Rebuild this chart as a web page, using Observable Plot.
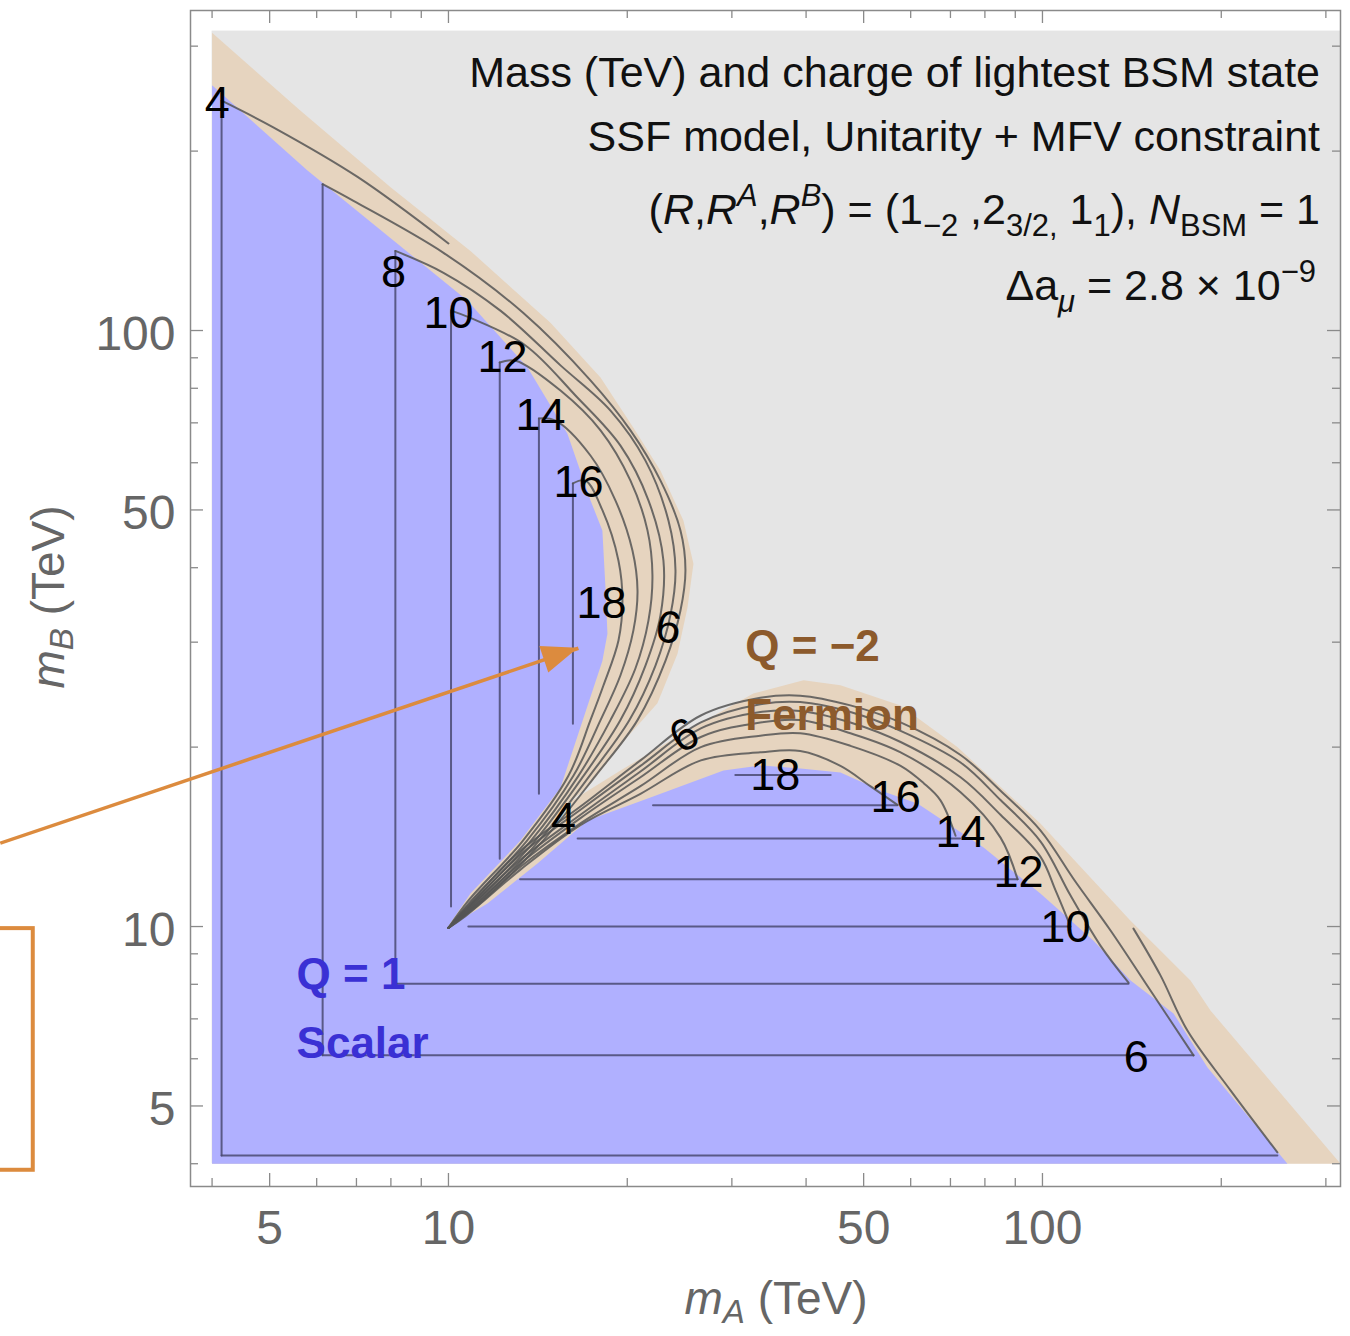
<!DOCTYPE html>
<html><head><meta charset="utf-8">
<script src="https://cdn.jsdelivr.net/npm/d3@7"></script>
<script src="https://cdn.jsdelivr.net/npm/@observablehq/plot@0.6"></script>
<style>body{margin:0;background:#fff}#chart svg{display:block}</style>
</head><body><div id="chart"></div>
<script>
// ---------- data (TeV) ----------
const xDomain = [3.679, 317.5];
const yDomain = [3.663, 344.3];
const scanRange = [4, 318];
const majorTicks = [5, 10, 50, 100];
const minorTicks = [4, 6, 7, 8, 9, 20, 30, 40, 60, 70, 80, 90, 200, 300];

// region where the lightest state is the Q=-2 fermion (outer edge against the excluded grey area)
const fermionRegion = [[4,4],[4,316],[5.63,234],[7.99,174],[10.89,136],[14.85,103],[18.03,83.4],[20.48,68.7],[22.75,58.2],[24.86,48.0],[25.85,40.6],[25.26,34.3],[24.3,28.7],[22.48,23.7],[20.01,20.8],[17.14,17.1],[15.86,16.09],[19.48,18.27],[25.26,21.33],[32.6,24.6],[39.6,25.9],[45.7,25.4],[57.7,23.5],[71.9,20.0],[99.2,14.89],[140.7,10.23],[177.5,8.12],[191.8,7.23],[317.5,4]];
// region where the lightest state is the Q=1 scalar
const scalarRegion = [[4,4],[4,258],[5.79,185.6],[8.08,141.6],[10.76,112.3],[13.59,86.7],[15.86,67.1],[17.34,51.9],[18.16,46.2],[18.38,37.0],[18.52,31.0],[18.16,27.9],[16.68,21.6],[15.44,17.1],[13.22,13.94],[10.89,11.36],[9.96,9.96],[11.63,10.93],[14.12,12.76],[17.14,15.06],[21.88,16.46],[29.04,18.27],[33.51,18.63],[39.14,18.41],[45.7,18.13],[53.4,16.92],[61.6,16.09],[79.6,13.57],[99.2,11.36],[121.9,9.47],[140.7,8.12],[166.2,7.15],[189.6,5.80],[258.5,4]];

// scalar-region contours (L shaped; null = branch not drawn)
const contourLevels = [4, 6, 8, 10, 12, 14, 16, 18];
const vertX    = [4.15, 6.14, 8.14, 10.1, 12.2, 14.2, 16.2, null];
const vertTop  = [243, 176, 136, 108, 88.4, 71.2, 55.4, null];
const vertBot  = [4.13, 6.08, 8.02, 10.8, 13.0, 16.7, 21.9, null];
const horY     = [4.13, 6.08, 8.02, 10.0, 12.0, 14.05, 15.97, 17.95];
const horLeft  = [4.15, 6.14, 8.14, 10.8, 13.2, 16.5, 22.1, 30.4];
const horRight = [248.6, 179.6, 139.6, 111, 90.8, 72.7, 57.0, 44];

// fermion-region contours (inside the band)
const band4Upper  = [[4.15,243],[5.08,219],[7.03,181],[10.0,140]];
const band6Upper  = [[6.14,176],[6.92,165],[9.81,135],[13.37,107],[17.34,82.5],[20.25,68.0],[22.75,56.0],[24.58,46.2],[25.06,39.6],[24.58,33.9],[23.19,27.9],[20.81,22.2],[17.68,17.9],[14.39,13.9],[11.45,11.06],[10,9.95]];
const band8Upper  = [[8.14,136],[9.81,125],[12.23,108],[15.44,87.4],[18.74,73.4],[21.46,60.5],[23.46,48.0],[24.11,39.6],[23.64,33.3],[22.31,27.4],[20.17,22.2],[17.28,17.9],[14.18,13.9],[11.32,11.06],[10,9.95]];
const band10Upper = [[10.1,108],[10.89,105],[13.48,94.4],[16.36,77.8],[19.48,64.1],[21.71,51.9],[23.01,41.1],[22.75,33.3],[21.46,27.4],[19.48,22.2],[16.88,17.9],[13.96,13.9],[11.19,11.06],[10,9.95]];
const band12Upper = [[12.2,88.4],[12.97,89.0],[15.44,79.3],[18.03,68.0],[20.25,56.0],[21.63,46.2],[22.05,38.8],[21.71,32.6],[20.64,27.1],[18.74,22.2],[16.55,17.9],[13.74,13.9],[11.06,11.06],[10,9.95]];
const band14Upper = [[14.2,71.2],[15.14,70.6],[17.34,61.7],[19.1,51.9],[20.41,42.7],[20.81,36.6],[20.48,31.4],[19.48,26.4],[18.03,22.2],[16.23,17.9],[13.53,13.9],[10.93,11.06],[10,9.95]];
const band16Upper = [[16.2,55.4],[17.01,56.0],[18.17,49.9],[19.33,41.1],[19.63,35.2],[19.33,30.2],[18.24,25.4],[17.34,22.2],[15.92,17.9],[13.32,13.9],[10.81,11.06],[10,9.95]];
const band4Lower  = [[248.6,4.18],[207.3,5.31],[175.4,6.69],[158,8.28],[142.3,9.92]];
const band6Lower  = [[179.6,6.08],[152,7.81],[130.2,9.85],[113.6,11.9],[99.2,14.5],[85.0,16.9],[72.8,19.4],[57.7,22.0],[47.5,23.5],[39.1,24.4],[33.5,24.2],[26.6,22.6],[21.05,19.0],[16.68,15.9],[13.22,13.4],[10.68,10.72],[10,9.95]];
const band8Lower  = [[139.6,8.05],[125.2,9.29],[111.5,11.27],[99.2,13.9],[85.0,16.3],[72.8,18.85],[57.7,21.3],[47.5,22.9],[39.1,23.8],[33.5,23.6],[26.6,22.0],[21.05,18.6],[16.68,15.7],[13.22,13.2],[10.68,10.64],[10,9.95]];
const band10Lower = [[111.5,10.0],[105.2,11.5],[99.2,13.1],[85.0,15.4],[72.8,17.8],[57.7,20.4],[47.5,22.0],[39.1,23.0],[33.5,22.9],[26.6,21.5],[21.05,18.2],[16.68,15.4],[13.22,12.95],[10.68,10.6],[10,9.95]];
const band12Lower = [[90.8,12.0],[85.0,14.1],[72.8,16.8],[57.7,19.6],[47.5,21.1],[39.1,22.2],[33.5,22.0],[26.6,20.8],[21.05,17.8],[16.68,15.2],[13.22,12.76],[10.68,10.53],[10,9.95]];
const band14Lower = [[71.4,14.2],[67.3,16.3],[63.1,17.4],[57.7,18.6],[47.5,20.1],[39.1,21.1],[33.5,20.9],[26.6,20.0],[21.05,17.2],[16.68,14.9],[13.22,12.6],[10.68,10.47],[10,9.95]];
const band16Lower = [[57.0,16.0],[51.3,17.2],[45.7,18.6],[39.1,19.7],[33.5,19.6],[26.6,19.0],[21.05,16.7],[16.68,14.8],[13.22,12.46],[10.68,10.41],[10,9.95]];

// contour labels
const labelText = ["4","8","10","12","14","16","18","6","6","4","18","16","14","12","10","6"];
const labelA    = [4.08, 8.08, 10.0, 12.33, 14.29, 16.55, 18.1, 23.46, 24.96, 15.62, 35.5, 56.6, 72.8, 91.1, 109.3, 143.9];
const labelB    = [240, 125.1, 106.8, 90.1, 72.0, 55.6, 34.8, 31.7, 20.9, 15.1, 17.9, 16.46, 14.4, 12.3, 9.96, 6.03];
const labelRot  = [0, 0, 0, 0, 0, 0, 0, 8, -30, 0, 0, 0, 0, 0, 0, 0];

// region labels
const regionNames = ["Q = 1", "Scalar", "Q = \u22122", "Fermion"];
const regionA = [5.55, 5.55, 31.6, 31.6];
const regionB = [8.28, 6.36, 29.4, 22.6];
const regionKind = ["scalar", "scalar", "fermion", "fermion"];

// annotation (arrow + box leaving the frame)
const arrowFrom = [1.76, 13.8];
const arrowTo = [16.55, 29.3];
const boxA = [1.5, 2.0];
const boxB = [3.9, 9.92];

// ---------- build ----------
const FONT = "'Liberation Sans', Arial, Helvetica, sans-serif";
const ORANGE = "#dc8b3e";
const W = 1350, H = 1336, ML = 190, MR = 10, MT = 10, MB = 150;
const FW = W - ML - MR, FH = H - MT - MB;

const lSegments = [];
contourLevels.forEach((lv, i) => {
  if (vertX[i] != null) {
    lSegments.push({x: vertX[i], y: vertTop[i], z: `v${lv}`});
    lSegments.push({x: vertX[i], y: vertBot[i], z: `v${lv}`});
  }
  lSegments.push({x: horLeft[i], y: horY[i], z: `h${lv}`});
  lSegments.push({x: horRight[i], y: horY[i], z: `h${lv}`});
});
const bandAll = [band4Upper, band6Upper, band8Upper, band10Upper, band12Upper, band14Upper, band16Upper,
  band4Lower, band6Lower, band8Lower, band10Lower, band12Lower, band14Lower, band16Lower];
const bandPts = bandAll.flatMap((ln, k) => ln.map(([x, y]) => ({x, y, z: k})));
const labels = labelText.map((t, i) => ({t, x: labelA[i], y: labelB[i], r: labelRot[i]}));
const regions = regionNames.map((t, i) => ({t, x: regionA[i], y: regionB[i], k: regionKind[i]}));

const chart = Plot.plot({
  width: W, height: H,
  marginLeft: ML, marginRight: MR, marginTop: MT, marginBottom: MB,
  style: {fontFamily: FONT, background: "white", overflow: "visible"},
  x: {type: "log", domain: xDomain, axis: null},
  y: {type: "log", domain: yDomain, axis: null},
  marks: [
    Plot.rect([{x1: scanRange[0], x2: scanRange[1], y1: scanRange[0], y2: scanRange[1]}],
      {x1: "x1", x2: "x2", y1: "y1", y2: "y2", fill: "#e5e5e5"}),
    Plot.line(fermionRegion, {x: d => d[0], y: d => d[1], fill: "#e6d4bf", stroke: "none"}),
    Plot.line(scalarRegion, {x: d => d[0], y: d => d[1], fill: "#b0b0ff", stroke: "none"}),
    Plot.line(lSegments, {x: "x", y: "y", z: "z", stroke: "#4a4a72", strokeWidth: 2, strokeOpacity: 0.85}),
    Plot.line(bandPts, {x: "x", y: "y", z: "z", stroke: "#555", strokeWidth: 2, strokeOpacity: 0.85, curve: "catmull-rom"}),
    Plot.text(labels, {x: "x", y: "y", text: "t", rotate: "r", fontSize: 45, fill: "#000"}),
    Plot.text(regions.filter(d => d.k === "scalar"), {x: "x", y: "y", text: "t", textAnchor: "start", fontSize: 44, fontWeight: "bold", fill: "#3a30d4"}),
    Plot.text(regions.filter(d => d.k === "fermion"), {x: "x", y: "y", text: "t", textAnchor: "start", fontSize: 44, fontWeight: "bold", fill: "#8c5a2c"}),
    Plot.frame({stroke: "#8a8a8a", strokeWidth: 1.5}),
    // ticks, all four sides, pointing inward
    Plot.tickX(majorTicks, {x: d => d, insetTop: FH - 13, stroke: "#8a8a8a", strokeWidth: 1.3}),
    Plot.tickX(minorTicks, {x: d => d, insetTop: FH - 8, stroke: "#8a8a8a", strokeWidth: 1.3}),
    Plot.tickX(majorTicks, {x: d => d, insetBottom: FH - 13, stroke: "#8a8a8a", strokeWidth: 1.3}),
    Plot.tickX(minorTicks, {x: d => d, insetBottom: FH - 8, stroke: "#8a8a8a", strokeWidth: 1.3}),
    Plot.tickY(majorTicks, {y: d => d, insetRight: FW - 13, stroke: "#8a8a8a", strokeWidth: 1.3}),
    Plot.tickY(minorTicks, {y: d => d, insetRight: FW - 8, stroke: "#8a8a8a", strokeWidth: 1.3}),
    Plot.tickY(majorTicks, {y: d => d, insetLeft: FW - 13, stroke: "#8a8a8a", strokeWidth: 1.3}),
    Plot.tickY(minorTicks, {y: d => d, insetLeft: FW - 8, stroke: "#8a8a8a", strokeWidth: 1.3}),
    Plot.text(majorTicks, {x: d => d, text: d => String(d), frameAnchor: "bottom", lineAnchor: "middle", dy: 42, fontSize: 48, fill: "#666"}),
    Plot.text(majorTicks, {y: d => d, text: d => String(d), frameAnchor: "left", lineAnchor: "middle", dx: -15, dy: 4, textAnchor: "end", fontSize: 48, fill: "#666"}),
    // annotation
    Plot.link([{x1: arrowFrom[0], y1: arrowFrom[1], x2: arrowTo[0], y2: arrowTo[1]}],
      {x1: "x1", y1: "y1", x2: "x2", y2: "y2", stroke: ORANGE, strokeWidth: 3.5}),
    Plot.rect([{x1: boxA[0], x2: boxA[1], y1: boxB[0], y2: boxB[1]}],
      {x1: "x1", x2: "x2", y1: "y1", y2: "y2", fill: "none", stroke: ORANGE, strokeWidth: 4})
  ]
});
document.getElementById("chart").append(chart);

const sx = chart.scale("x"), sy = chart.scale("y");
const svg = d3.select(chart);

// filled arrow head
{
  const T = [sx.apply(arrowTo[0]), sy.apply(arrowTo[1])];
  const S = [sx.apply(arrowFrom[0]), sy.apply(arrowFrom[1])];
  const dx = T[0] - S[0], dy = T[1] - S[1], L = Math.hypot(dx, dy);
  const u = [dx / L, dy / L], n = [-u[1], u[0]];
  const len = 36, hw = 14;
  const B = [T[0] - u[0] * len, T[1] - u[1] * len];
  svg.append("path")
    .attr("d", `M${T[0]},${T[1]}L${B[0] + n[0] * hw},${B[1] + n[1] * hw}L${B[0] - n[0] * hw},${B[1] - n[1] * hw}Z`)
    .attr("fill", ORANGE);
}

function richText(x, y, parts, {anchor = "end", size = 42, fill = "#111", rotate = 0, subShift = 0.28} = {}) {
  const t = svg.append("text").attr("x", x).attr("y", y).attr("text-anchor", anchor)
    .attr("font-size", size).attr("fill", fill).attr("font-family", FONT).style("white-space", "pre");
  if (rotate) t.attr("transform", `rotate(${rotate} ${x} ${y})`);
  let cur = 0;
  for (const p of parts) {
    const o = typeof p === "string" ? {t: p} : p;
    const target = o.sub ? size * subShift : o.sup ? -size * 0.42 : 0;
    const ts = t.append("tspan").text(o.t);
    if (target !== cur) { ts.attr("dy", target - cur); cur = target; }
    if (o.italic) ts.attr("font-style", "italic");
    if (o.sub || o.sup) ts.attr("font-size", size * 0.72);
  }
}

richText(1320, 87, ["Mass (TeV) and charge of lightest BSM state"], {size: 43});
richText(1320, 151, ["SSF model, Unitarity + MFV constraint"], {size: 43});
richText(1320, 224, ["(", {t: "R", italic: true}, ",", {t: "R", italic: true}, {t: "A", sup: true, italic: true}, ",",
  {t: "R", italic: true}, {t: "B", sup: true, italic: true}, ") = (1", {t: "\u22122", sub: true}, " ,2", {t: "3/2,", sub: true},
  " 1", {t: "1", sub: true}, "), ", {t: "N", italic: true}, {t: "BSM", sub: true}, " = 1"], {size: 43});
richText(1316, 300, ["\u0394a", {t: "\u03bc", sub: true, italic: true}, " = 2.8 \u00d7 10", {t: "\u22129", sup: true}], {size: 43});

richText(776, 1314, [{t: "m", italic: true}, {t: "A", sub: true, italic: true}, " (TeV)"], {anchor: "middle", size: 46, fill: "#666", subShift: 0.2});
richText(64, 597, [{t: "m", italic: true}, {t: "B", sub: true, italic: true}, " (TeV)"], {anchor: "middle", size: 46, fill: "#666", rotate: -90, subShift: 0.2});
</script>
</body></html>
